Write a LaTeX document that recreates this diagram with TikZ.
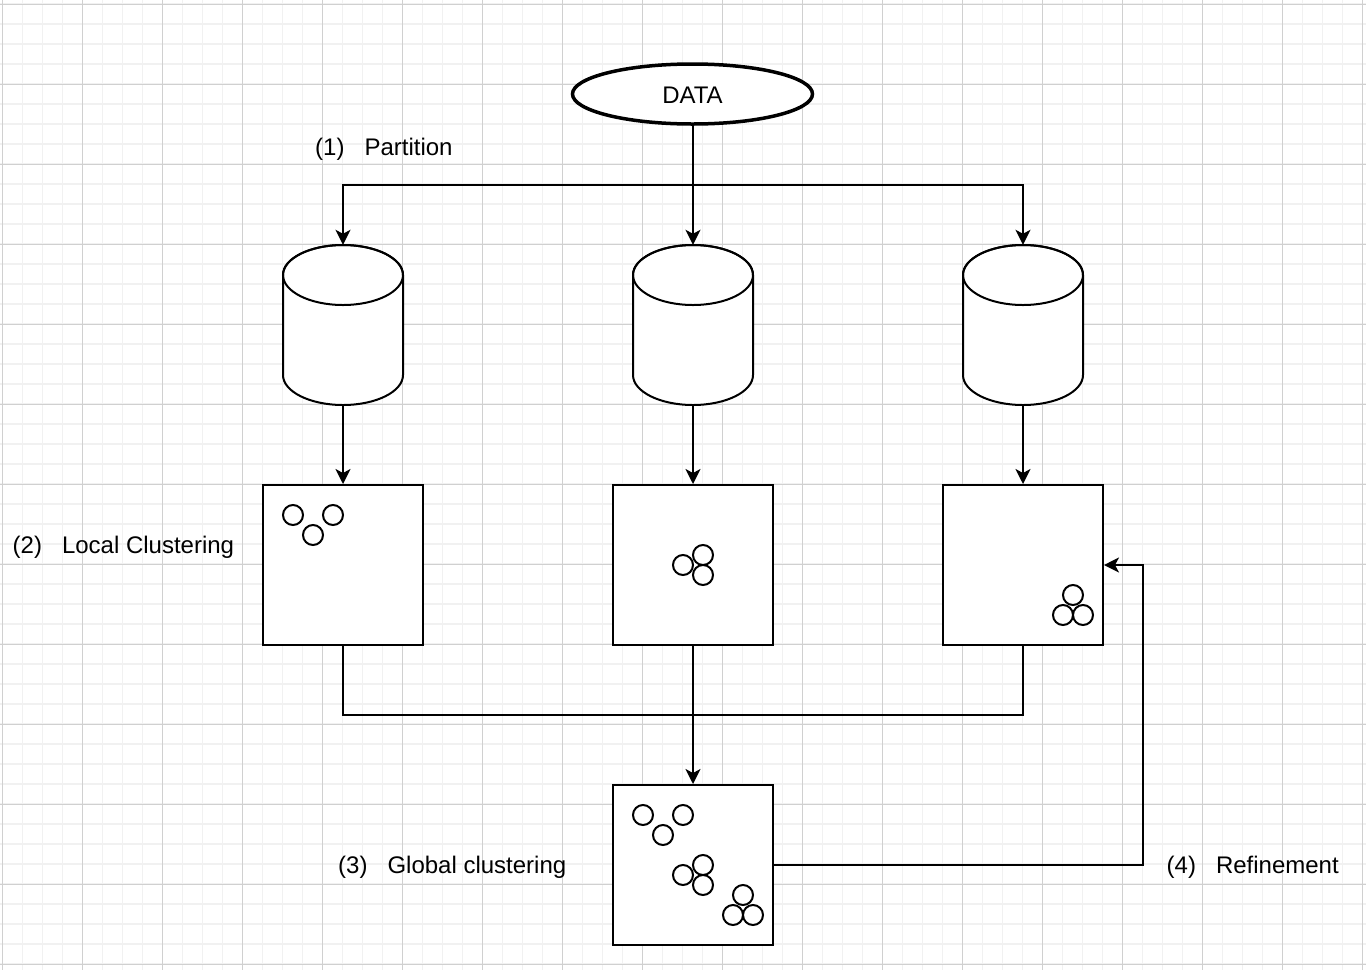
\documentclass[tikz,border=0pt]{standalone}
\usepackage{fontspec}
\setmainfont{Liberation Sans}
\usetikzlibrary{arrows.meta,shapes.geometric}
\definecolor{gridminor}{HTML}{F1F1F1}
\definecolor{gridmajor}{HTML}{D0D0D0}
\begin{document}
\begin{tikzpicture}[x=1pt,y=-1pt,
  every node/.style={font=\fontsize{24}{28.8}\selectfont},
  arr/.style={line width=2pt,-{Stealth[length=15pt,width=15pt,inset=4pt]}},
  conn/.style={line width=2pt},
  box/.style={draw,line width=2pt,fill=white,minimum width=160pt,minimum height=160pt,inner sep=0pt},
  cylbox/.style={draw=none,minimum width=120pt,minimum height=160pt,inner sep=0pt},
  dot/.style={line width=2pt,fill=white},
  lbl/.style={anchor=base west,inner sep=0pt}]
\useasboundingbox (0,0) rectangle (1366,970);
\fill[white] (0,0) rectangle (1366,970);
% grid
\foreach \i in {0,...,68} {\draw[gridminor,line width=1.3pt] (2.5+20*\i,0) -- (2.5+20*\i,970);}
\foreach \j in {0,...,48} {\draw[gridminor,line width=1.3pt] (0,4+20*\j) -- (1366,4+20*\j);}
\foreach \i in {0,...,17} {\draw[gridmajor,line width=1pt] (2.5+80*\i,0) -- (2.5+80*\i,970);}
\foreach \j in {0,...,12} {\draw[gridmajor,line width=1pt] (0,4+80*\j) -- (1366,4+80*\j);}

% DATA
\node[ellipse,draw,line width=3.5pt,fill=white,minimum width=240pt,minimum height=60pt,inner sep=0pt] (data) at (692.5,94) {};
\node[inner sep=0pt,anchor=base] (datatxt) at (692.5,103) {DATA};

% cylinders
\foreach \n/\x in {c1/343,c2/693,c3/1023} {
  \node[cylbox] (\n) at (\x,325) {};
  \filldraw[line width=2pt,fill=white] (\x-60,275) -- (\x-60,375) arc[start angle=180,end angle=0,x radius=60,y radius=30] -- (\x+60,275) arc[start angle=0,end angle=-180,x radius=60,y radius=30] -- cycle;
  \draw[line width=2pt] (\x,275) ellipse [x radius=60,y radius=30];
}

% boxes
\node[box] (r1) at (343,565) {};
\node[box] (r2) at (693,565) {};
\node[box] (r3) at (1023,565) {};
\node[box] (g) at (693,865) {};

% clusters
\foreach \cx/\cy in {293/515,333/515,313/535,
                     683/565,703/555,703/575,
                     1073/595,1063/615,1083/615,
                     643/815,683/815,663/835,
                     683/875,703/865,703/885,
                     743/895,733/915,753/915}
  \draw[dot] (\cx,\cy) circle [radius=10];

% connectors
\coordinate (split) at (693,185);
\coordinate (merge) at (693,715);
\coordinate (bend) at (1143,865);
\draw[arr] (data.south -| c2.north) -- (c2.north);
\draw[arr] (split) -| (c1.north);
\draw[arr] (split) -| (c3.north);
\draw[arr] (c1.south) -- (r1.north);
\draw[arr] (c2.south) -- (r2.north);
\draw[arr] (c3.south) -- (r3.north);
\draw[conn] (r1.south) |- (merge);
\draw[conn] (r3.south) |- (merge);
\draw[arr] (r2.south) -- (g.north);
\draw[arr] (g.east) -- (bend) |- (r3.east);

% labels
\node[lbl] (l1) at (315,155) {(1)\hspace{20pt}Partition};
\node[lbl] (l2) at (12.5,553) {(2)\hspace{20pt}Local Clustering};
\node[lbl] (l3) at (338,873) {(3)\hspace{20pt}Global clustering};
\node[lbl] (l4) at (1166.5,873) {(4)\hspace{20pt}Refinement};
\end{tikzpicture}
\end{document}
